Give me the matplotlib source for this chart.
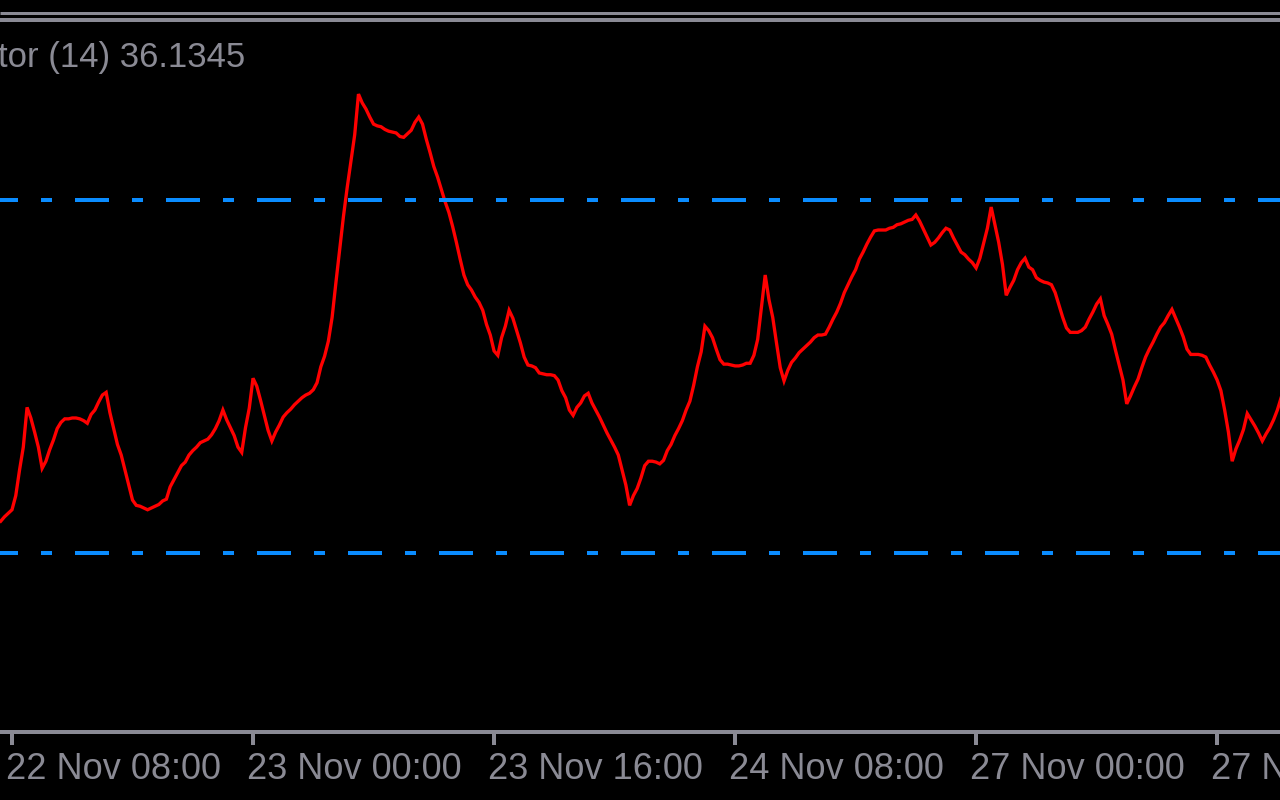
import numpy as np
import matplotlib
matplotlib.use("Agg")
import matplotlib.pyplot as plt
import matplotlib.transforms as mtransforms
from matplotlib.lines import Line2D

plt.rcParams['font.family'] = ['Liberation Sans', 'DejaVu Sans']
plt.rcParams['lines.scale_dashes'] = False

# indicator values, one per M15 bar (bar 0 = 22 Nov 08:00)
first_bar = -3
values = [
    33.6, 34.1, 34.5, 34.9, 36.5, 39.4, 42.0, 46.5, 45.3, 43.7,
    42.0, 39.6, 40.4, 41.7, 42.8, 44.1, 44.8, 45.2, 45.2, 45.3,
    45.3, 45.2, 45.0, 44.7, 45.7, 46.2, 47.1, 47.9, 48.2, 45.9,
    44.1, 42.3, 41.1, 39.4, 37.7, 36.0, 35.4, 35.3, 35.1, 34.9,
    35.1, 35.3, 35.5, 35.9, 36.1, 37.5, 38.3, 39.1, 39.9, 40.3,
    41.1, 41.6, 42.0, 42.5, 42.7, 42.9, 43.4, 44.1, 45.0, 46.2,
    45.1, 44.2, 43.3, 42.0, 41.4, 44.2, 46.4, 49.8, 48.9, 47.3,
    45.6, 43.9, 42.7, 43.7, 44.5, 45.4, 45.9, 46.3, 46.8, 47.2,
    47.6, 47.9, 48.1, 48.5, 49.3, 51.1, 52.3, 54.0, 56.7, 60.6,
    64.3, 68.1, 71.4, 74.4, 77.4, 82.0, 81.0, 80.3, 79.4, 78.6,
    78.4, 78.3, 78.0, 77.8, 77.7, 77.6, 77.2, 77.1, 77.5, 77.9,
    78.8, 79.4, 78.6, 76.9, 75.4, 73.8, 72.6, 71.2, 69.8, 68.6,
    67.0, 65.2, 63.3, 61.5, 60.4, 59.8, 59.0, 58.4, 57.5, 55.9,
    54.7, 52.9, 52.4, 54.4, 55.7, 57.5, 56.6, 55.2, 53.8, 52.2,
    51.3, 51.2, 51.0, 50.4, 50.3, 50.2, 50.2, 50.1, 49.6, 48.4,
    47.6, 46.2, 45.6, 46.5, 47.0, 47.8, 48.1, 47.0, 46.2, 45.4,
    44.5, 43.6, 42.8, 42.0, 41.1, 39.4, 37.7, 35.4, 36.5, 37.3,
    38.5, 39.9, 40.4, 40.4, 40.3, 40.1, 40.5, 41.6, 42.3, 43.3,
    44.1, 45.0, 46.2, 47.2, 49.0, 51.1, 52.8, 55.7, 55.2, 54.4,
    53.1, 51.9, 51.4, 51.4, 51.3, 51.2, 51.2, 51.3, 51.5, 51.5,
    52.4, 54.2, 57.8, 61.5, 58.7, 56.7, 53.8, 51.0, 49.5, 50.7,
    51.6, 52.1, 52.7, 53.1, 53.5, 53.9, 54.4, 54.7, 54.7, 54.8,
    55.6, 56.5, 57.3, 58.3, 59.5, 60.4, 61.3, 62.1, 63.3, 64.1,
    65.0, 65.8, 66.5, 66.6, 66.6, 66.6, 66.8, 66.9, 67.2, 67.3,
    67.5, 67.7, 67.8, 68.3, 67.6, 66.7, 65.8, 64.9, 65.2, 65.7,
    66.3, 66.8, 66.6, 65.7, 64.9, 64.1, 63.8, 63.3, 62.9, 62.3,
    63.4, 65.1, 66.8, 69.2, 67.2, 65.2, 62.7, 59.2, 60.1, 60.9,
    62.1, 62.9, 63.4, 62.4, 62.1, 61.2, 60.9, 60.7, 60.6, 60.4,
    59.5, 58.1, 56.7, 55.5, 55.0, 55.0, 55.0, 55.2, 55.6, 56.5,
    57.3, 58.2, 58.8, 56.9, 55.9, 54.8, 53.0, 51.3, 49.6, 46.9,
    47.8, 48.8, 49.7, 51.0, 52.2, 53.1, 53.9, 54.8, 55.6, 56.1,
    56.9, 57.6, 56.6, 55.6, 54.5, 53.1, 52.5, 52.5, 52.5, 52.4,
    52.2, 51.3, 50.5, 49.6, 48.4, 46.2, 43.7, 40.4, 41.8, 42.8,
    44.0, 45.8, 45.1, 44.4, 43.6, 42.7, 43.5, 44.2, 45.1, 46.2,
    47.6,
]
levels = [70, 30]
tick_bars = [0, 64, 128, 192, 256, 320]
tick_labels = ["22 Nov 08:00", "23 Nov 00:00", "23 Nov 16:00",
               "24 Nov 08:00", "27 Nov 00:00", "27 Nov 16:00"]
title = "tor (14) 36.1345"

bars = np.arange(first_bar, first_bar + len(values))

GRAY = '#8a8a94'
W, H = 1280, 800
px = 72 / 100  # points per pixel

fig = plt.figure(figsize=(12.8, 8), dpi=100, facecolor='black')
ax = fig.add_axes([0, 68 / H, 1, (732 - 22) / H])
ax.set_facecolor('black')

ax.plot(bars, values, color='#ff0000', lw=3.3 * px, solid_joinstyle='miter')
for lv in levels:
    ax.axhline(lv, color='#0a8cff', lw=4 * px, solid_capstyle='butt',
               dash_capstyle='butt',
               linestyle=(16 * px, (34 * px, 23 * px, 11 * px, 23 * px)))

ax.set_xlim(-12 / 3.766, (W - 12) / 3.766)
ax.set_ylim(30 - 179 / 8.825, 70 + 178 / 8.825)

for s in ['top', 'left', 'right']:
    ax.spines[s].set_visible(False)
ax.spines['bottom'].set_color(GRAY)
ax.spines['bottom'].set_linewidth(4 * px)
ax.set_yticks([])
ax.set_xticks(tick_bars)
ax.set_xticklabels(tick_labels)
ax.tick_params(axis='x', colors=GRAY, length=13 * px, width=4 * px,
               pad=7 * px, labelsize=26, labelcolor=GRAY)
shift = mtransforms.ScaledTranslation(-6 / 100, 0, fig.dpi_scale_trans)
for lab in ax.get_xticklabels():
    lab.set_horizontalalignment('left')
    lab.set_transform(lab.get_transform() + shift)

# window separators at the top
for y, w in [(12.5, 3), (20, 4)]:
    fig.add_artist(Line2D([0, 1], [1 - y / H, 1 - y / H], transform=fig.transFigure,
                          color=GRAY, lw=w * px, solid_capstyle='butt'))

fig.text(-2 / W, 1 - 67 / H, title, color=GRAY, fontsize=25, va='baseline', ha='left')

fig.savefig('out.png', dpi=100, facecolor='black')
